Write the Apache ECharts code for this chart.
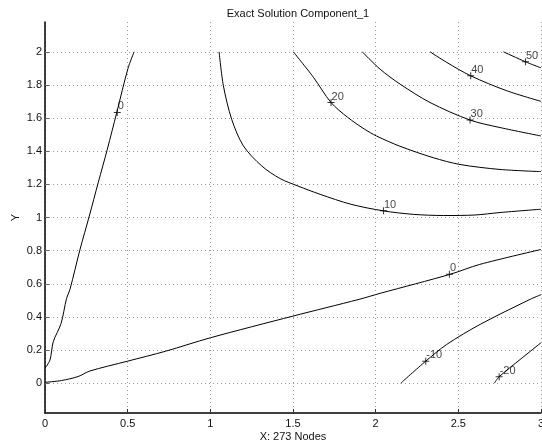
<!DOCTYPE html>
<html>
<head>
<meta charset="utf-8">
<script src="https://cdn.jsdelivr.net/npm/echarts@6/dist/echarts.min.js"></script>
<style>
html, body { margin: 0; padding: 0; background: #fff; }
#myChart { width: 542px; height: 448px; }
</style>
</head>
<body>
<div id="myChart"></div>
<script>
// tick values
var xTicks = [0, 0.5, 1, 1.5, 2, 2.5, 3];
var yTicks = [0, 0.2, 0.4, 0.6, 0.8, 1, 1.2, 1.4, 1.6, 1.8, 2];

// contour lines as [x, y]
var zeroLeft = [[0, 0.09], [0.03, 0.14], [0.05, 0.25], [0.097, 0.36], [0.13, 0.51], [0.151, 0.566],
    [0.212, 0.808], [0.268, 1.009], [0.322, 1.211], [0.377, 1.412], [0.434, 1.634], [0.502, 1.9], [0.539, 2.0]];
var zeroLow = [[0, 0.005], [0.1, 0.016], [0.2, 0.04], [0.27, 0.073], [0.5, 0.133], [0.73, 0.193],
    [1.0, 0.274], [1.5, 0.405], [1.9, 0.506], [2.03, 0.543], [2.45, 0.657], [2.63, 0.717], [3.0, 0.807]];
var c10 = [[1.053, 2.0], [1.079, 1.795], [1.129, 1.593], [1.2, 1.432], [1.311, 1.311], [1.422, 1.235],
    [1.53, 1.19], [1.664, 1.14], [1.85, 1.08], [2.047, 1.04], [2.228, 1.019], [2.41, 1.012],
    [2.6, 1.015], [2.752, 1.03], [3.0, 1.05]];
var c20 = [[1.502, 2.0], [1.623, 1.847], [1.73, 1.694], [1.83, 1.605], [1.93, 1.535], [2.005, 1.492],
    [2.147, 1.43], [2.348, 1.361], [2.51, 1.32], [2.752, 1.29], [3.0, 1.277]];
var c30 = [[1.919, 2.0], [2.027, 1.895], [2.148, 1.805], [2.329, 1.694], [2.571, 1.588], [2.752, 1.543], [3.0, 1.492]];
var c40 = [[2.329, 2.0], [2.43, 1.936], [2.575, 1.855], [2.793, 1.765], [3.0, 1.701]];
var c50 = [[2.773, 2.0], [2.906, 1.94], [3.0, 1.903]];
var cm10 = [[2.152, 0.0], [2.303, 0.133], [2.43, 0.234], [2.632, 0.355], [2.934, 0.506], [3.0, 0.534]];
var cm20 = [[2.718, 0.0], [2.747, 0.039], [2.874, 0.143], [3.0, 0.244]];

// level labels: [x, y, level]
var levelMarks = [[0.437, 1.634, 0], [2.446, 0.657, 0], [2.047, 1.04, 10], [1.73, 1.694, 20],
    [2.571, 1.588, 30], [2.575, 1.855, 40], [2.906, 1.94, 50], [2.303, 0.133, -10], [2.747, 0.039, -20]];

var contours = [zeroLeft, zeroLow, c10, c20, c30, c40, c50, cm10, cm20];

var myChart = echarts.init(document.getElementById('myChart'));

var fontFam = '"Liberation Sans", Arial, sans-serif';
var gridLine = { show: true, lineStyle: { color: '#999', width: 1, type: [1, 3] } };

var option = {
    animation: false,
    title: {
        text: 'Exact Solution Component_1',
        left: 293,
        top: 3,
        textAlign: 'center',
        textStyle: { fontFamily: fontFam, fontSize: 11, fontWeight: 'normal', color: '#111' }
    },
    grid: { left: 45, right: 1, top: 22, bottom: 35, containLabel: false, outerBoundsMode: 'none' },
    xAxis: {
        type: 'value',
        min: 0,
        max: 3,
        interval: 0.5,
        name: 'X: 273 Nodes',
        nameLocation: 'middle',
        nameGap: 18,
        nameMoveOverlap: false,
        nameTextStyle: { fontFamily: fontFam, fontSize: 11, color: '#111' },
        axisLine: { onZero: false, lineStyle: { color: '#000', width: 1.5 } },
        axisTick: { inside: true, length: 4, lineStyle: { color: '#333' } },
        axisLabel: { fontFamily: fontFam, fontSize: 11, color: '#111', margin: 5,
            formatter: function (v) { return String(v); } },
        splitLine: gridLine
    },
    yAxis: {
        type: 'value',
        min: -0.18,
        max: 2.18,
        name: 'Y',
        nameLocation: 'middle',
        nameGap: 24,
        nameMoveOverlap: false,
        nameTextStyle: { fontFamily: fontFam, fontSize: 11, color: '#111' },
        axisLine: { show: true, onZero: false, lineStyle: { color: '#000', width: 1.5 } },
        axisTick: { show: true, inside: true, length: 4, customValues: yTicks, lineStyle: { color: '#666' } },
        axisLabel: { fontFamily: fontFam, fontSize: 11, color: '#111', margin: 3, customValues: yTicks,
            formatter: function (v) { return String(Math.round(v * 10) / 10); } },
        splitLine: gridLine
    },
    series: []
};

for (var m = 0; m < contours.length; m++) {
    option.series.push({
        type: 'line',
        data: contours[m],
        showSymbol: false,
        smooth: 0.3,
        lineStyle: { color: '#000', width: 1 },
        silent: true
    });
}

option.series.push({
    type: 'scatter',
    data: levelMarks,
    symbol: 'path://M3,0h1v3h3v1h-3v3h-1v-3h-3v-1h3z',
    symbolSize: 7,
    itemStyle: { color: '#000' },
    label: {
        show: true,
        position: [4, -8],
        align: 'left',
        verticalAlign: 'top',
        fontFamily: fontFam,
        fontSize: 11,
        color: '#111',
        formatter: function (p) { return String(p.value[2]); }
    }
});

myChart.setOption(option);
</script>
</body>
</html>
